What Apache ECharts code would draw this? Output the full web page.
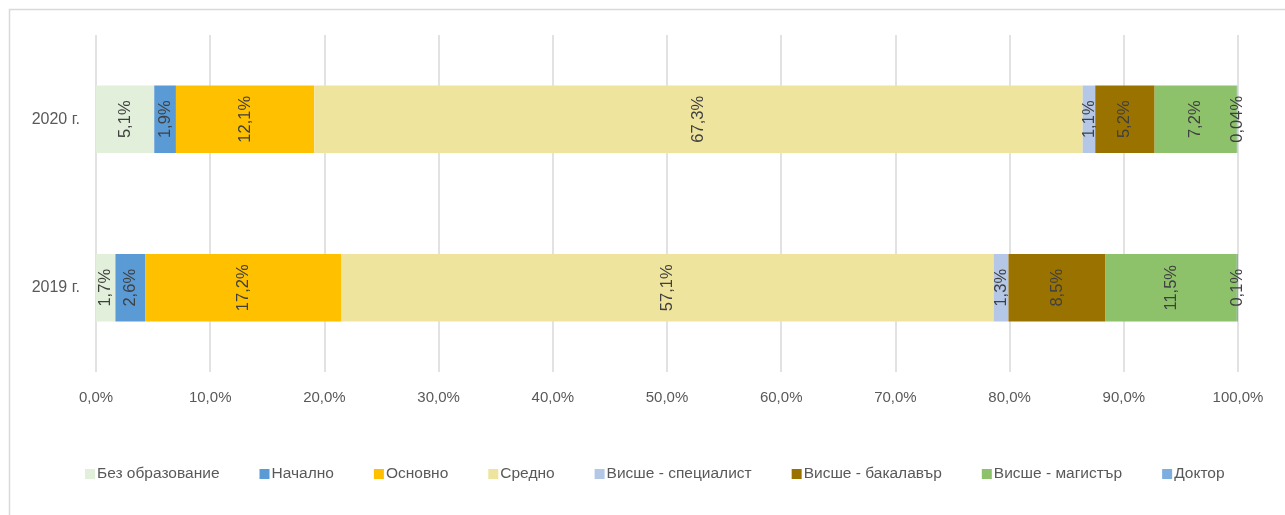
<!DOCTYPE html>
<html>
<head>
<meta charset="utf-8">
<script src="https://cdn.jsdelivr.net/npm/echarts@6/dist/echarts.min.js"></script>
<style>
  html, body { margin: 0; padding: 0; background: #fff; }
  #chart { width: 1285px; height: 515px; }
</style>
</head>
<body>
<div id="chart"></div>
<script>
// years (bottom to top)
const years = ["2019 г.", "2020 г."];
const seriesNames = ["Без образование", "Начално", "Основно", "Средно",
  "Висше - специалист", "Висше - бакалавър", "Висше - магистър", "Доктор"];
// share in %, [2019, 2020]
const bezObr = [1.7, 5.1];
const nachalno = [2.6, 1.9];
const osnovno = [17.2, 12.1];
const sredno = [57.1, 67.3];
const specialist = [1.3, 1.1];
const bakalavar = [8.5, 5.2];
const magistar = [11.5, 7.2];
const doktor = [0.1, 0.04];
const xTicks = [0, 10, 20, 30, 40, 50, 60, 70, 80, 90, 100];

const colors = ["#E2EFDA", "#5B9BD5", "#FFC000", "#EEE49E", "#B4C7E7", "#9A7200", "#8DC26B", "#7EADE0"];
const font = "'Liberation Sans Narrow', 'Arial Narrow', 'Liberation Sans', sans-serif";
const txt = "#595959";

const chart = echarts.init(document.getElementById("chart"));
const allData = [bezObr, nachalno, osnovno, sredno, specialist, bakalavar, magistar, doktor];

chart.setOption({
  animation: false,
  textStyle: { fontFamily: font },
  graphic: [{
    type: "rect",
    shape: { x: 9.5, y: 9.5, width: 1300, height: 600 },
    style: { fill: "none", stroke: "#d9d9d9", lineWidth: 1.5 },
    silent: true
  }],
  grid: { left: 96, right: 47, top: 35, bottom: 143 },
  legend: {
    bottom: 28,
    left: 80,
    itemWidth: 10,
    itemHeight: 10,
    itemGap: 40,
    icon: "rect",
    data: seriesNames,
    textStyle: { fontFamily: font, fontSize: 15.5, color: txt, padding: [0, 0, 0, -3] }
  },
  xAxis: {
    type: "value",
    min: 0,
    max: 100,
    interval: 10,
    axisLine: { show: false },
    axisTick: { show: false },
    splitLine: { lineStyle: { color: "#d9d9d9", width: 1.5 } },
    axisLabel: {
      fontFamily: font, fontSize: 15, color: txt, margin: 18,
      formatter: v => xTicks.includes(v) ? v.toFixed(1).replace(".", ",") + "%" : ""
    }
  },
  yAxis: {
    type: "category",
    data: years,
    axisLine: { show: false },
    axisTick: { show: false },
    axisLabel: { fontFamily: font, fontSize: 16, color: txt, margin: 16 }
  },
  series: seriesNames.map((name, i) => ({
    name: name,
    type: "bar",
    stack: "total",
    barWidth: "40%",
    itemStyle: { color: colors[i] },
    data: allData[i],
    label: {
      show: true,
      position: "inside",
      rotate: 90,
      fontFamily: font,
      fontSize: 16.5,
      color: "#404040",
      formatter: p => String(p.value).replace(".", ",") + "%"
    }
  }))
});
</script>
</body>
</html>
